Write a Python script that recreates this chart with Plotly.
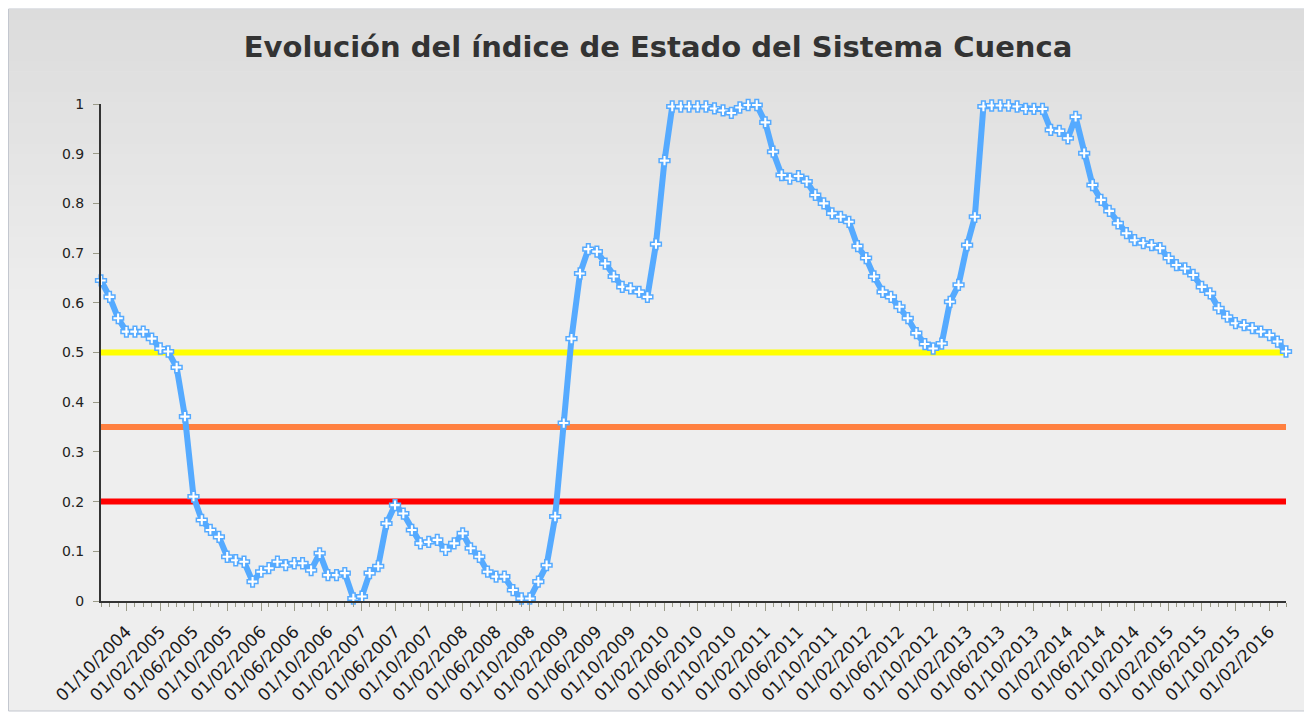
import pandas as pd
import plotly.graph_objects as go

# ---- data ----
start_month = "2004-07-01"
indice = [
    0.645, 0.612, 0.569, 0.542, 0.542, 0.542, 0.528, 0.508, 0.502, 0.470,
    0.371, 0.210, 0.163, 0.143, 0.129, 0.089, 0.082, 0.079, 0.039, 0.059,
    0.066, 0.079, 0.072, 0.076, 0.076, 0.062, 0.096, 0.052, 0.052, 0.056,
    0.005, 0.009, 0.056, 0.070, 0.156, 0.193, 0.176, 0.143, 0.116, 0.119,
    0.123, 0.103, 0.116, 0.136, 0.106, 0.089, 0.059, 0.049, 0.049, 0.022,
    0.005, 0.005, 0.039, 0.072, 0.170, 0.358, 0.528, 0.659, 0.708, 0.703,
    0.679, 0.653, 0.632, 0.629, 0.622, 0.612, 0.718, 0.886, 0.995, 0.995,
    0.995, 0.995, 0.995, 0.991, 0.987, 0.982, 0.993, 0.998, 0.998, 0.963,
    0.904, 0.857, 0.850, 0.855, 0.844, 0.817, 0.800, 0.780, 0.773, 0.763,
    0.714, 0.690, 0.653, 0.622, 0.612, 0.592, 0.569, 0.539, 0.517, 0.508,
    0.518, 0.602, 0.636, 0.716, 0.773, 0.995, 0.997, 0.997, 0.997, 0.995,
    0.990, 0.990, 0.990, 0.948, 0.946, 0.931, 0.974, 0.901, 0.837, 0.807,
    0.785, 0.760, 0.740, 0.726, 0.720, 0.716, 0.710, 0.690, 0.676, 0.669,
    0.656, 0.632, 0.619, 0.589, 0.572, 0.559, 0.555, 0.549, 0.542, 0.535,
    0.522, 0.502,
]
umbrales = [0.5, 0.35, 0.2]
umbral_colores = ["#ffff00", "#ff8040", "#ff0000"]
y_ticks = [0, 0.1, 0.2, 0.3, 0.4, 0.5, 0.6, 0.7, 0.8, 0.9, 1]
titulo = "Evolución del índice de Estado del Sistema Cuenca"

fechas = pd.date_range(start_month, periods=len(indice), freq="MS")

# ---- geometry (page has an 8px body margin) ----
OFF = 8
W, H = 1312 - OFF, 713 - OFF
L, R, T, B = 101 - OFF, 1286 - OFF, 104 - OFF, 601 - OFF


def px_x(px):
    return (px - OFF - L) / (R - L)


def px_y(py):
    return (B - (py - OFF)) / (B - T)


fig = go.Figure()

for u, c in zip(umbrales, umbral_colores):
    fig.add_trace(go.Scatter(
        x=[fechas[0], fechas[-1]], y=[u, u], mode="lines",
        line=dict(color=c, width=6), hoverinfo="skip", showlegend=False,
        cliponaxis=False,
    ))

fig.add_trace(go.Scatter(
    x=fechas, y=indice, mode="lines+markers",
    line=dict(color="#55aaff", width=6),
    marker=dict(symbol="cross", size=9, color="white",
                line=dict(color="#55aaff", width=1.5)),
    showlegend=False, cliponaxis=False,
))

# background frame with vertical gradient
shapes = []
top, bot = 9, 711
c0, c1 = 0xdc, 0xee
grad_end = 320
n = 30
step = (grad_end - top) / n
shapes.append(dict(type="rect", xref="paper", yref="paper",
                   x0=px_x(8.5), x1=px_x(1308), y0=px_y(bot), y1=px_y(top),
                   fillcolor="#eeeeee", line=dict(color="#c3c7cf", width=1),
                   layer="below"))
for k in range(n):
    y0 = top + k * step
    y1 = y0 + step + 0.6
    v = int(round(c0 + (c1 - c0) * k / (n - 1)))
    col = f"#{v:02x}{v:02x}{v:02x}"
    shapes.append(dict(type="rect", xref="paper", yref="paper",
                       x0=px_x(9), x1=px_x(1307.5),
                       y0=px_y(min(y1, grad_end)), y1=px_y(max(y0, top + 0.5)),
                       fillcolor=col, line=dict(width=0), layer="below"))

fig.update_layout(
    width=W, height=H,
    margin=dict(l=L, r=W - R, t=T, b=H - B, pad=0, autoexpand=False),
    paper_bgcolor="white",
    plot_bgcolor="rgba(0,0,0,0)",
    shapes=shapes,
    title=dict(text=titulo, x=(658 - OFF) / W, xref="container",
               xanchor="center",
               y=1 - (47 - OFF) / H, yref="container", yanchor="middle",
               font=dict(family="DejaVu Sans", size=29, color="#333333",
                         weight="bold")),
    font=dict(family="DejaVu Sans", size=14, color="#222222"),
    xaxis=dict(
        type="date", automargin=False,
        range=[fechas[0], fechas[-1]],
        tickmode="linear", tick0="2004-10-01", dtick="M4",
        tickformat="%d/%m/%Y", tickangle=-45,
        ticks="outside", ticklen=8, tickwidth=1, tickcolor="#9a9a88",
        showline=True, linecolor="#333333", linewidth=2,
        showgrid=False, zeroline=False,
        minor=dict(dtick="M1", tick0="2004-07-01", ticks="outside",
                   ticklen=4, tickwidth=1, tickcolor="#9a9a88",
                   showgrid=False),
        tickfont=dict(size=17, color="#1a1a1a"),
        ticklabelstandoff=4,
    ),
    yaxis=dict(
        automargin=False,
        range=[0, 1], tickvals=y_ticks,
        ticks="outside", ticklen=6, tickwidth=1, tickcolor="#9a9a88",
        showline=True, linecolor="#333333", linewidth=2,
        showgrid=False, zeroline=False,
        tickfont=dict(size=14, color="#222222"),
        ticklabelstandoff=6,
    ),
)

fig.write_html("out.html")
